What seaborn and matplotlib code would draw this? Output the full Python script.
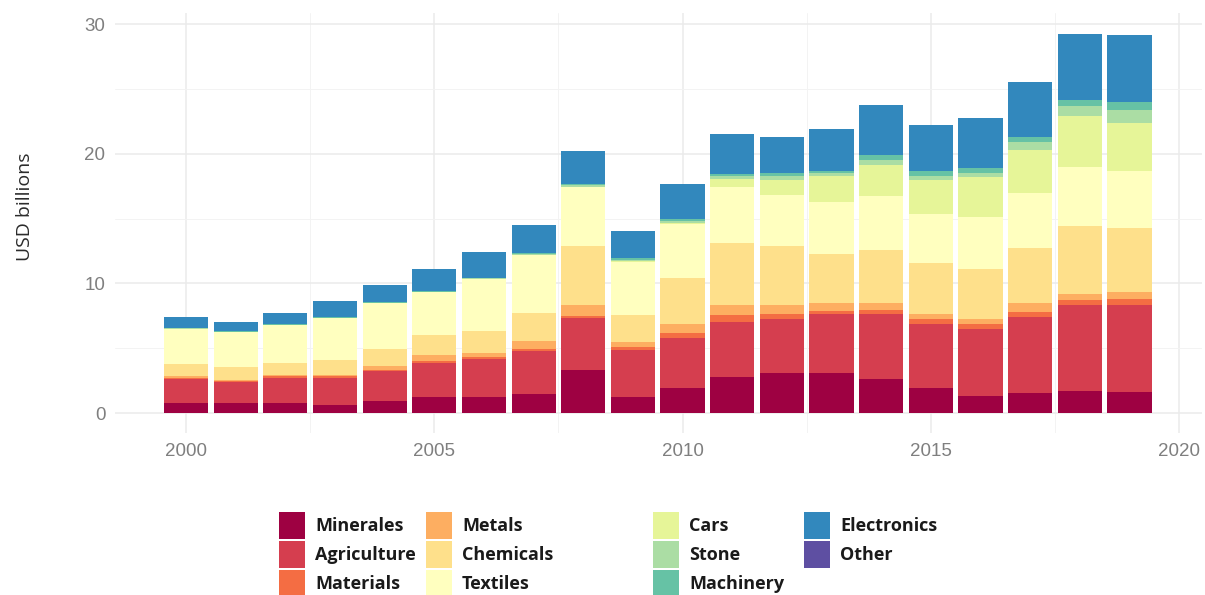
import matplotlib
matplotlib.use('Agg')
import matplotlib.pyplot as plt
from matplotlib.patches import Patch
from matplotlib.ticker import MultipleLocator
import pandas as pd
import seaborn as sns

years = [2000, 2001, 2002, 2003, 2004, 2005, 2006, 2007, 2008, 2009,
         2010, 2011, 2012, 2013, 2014, 2015, 2016, 2017, 2018, 2019]

# USD billions
minerales = [0.75, 0.75, 0.75, 0.62, 0.95, 1.2, 1.2, 1.45, 3.3, 1.25,
             1.95, 2.8, 3.1, 3.1, 2.6, 1.9, 1.3, 1.55, 1.7, 1.6]
agriculture = [1.85, 1.64, 1.97, 2.1, 2.3, 2.65, 2.95, 3.3, 4.0, 3.6,
               3.8, 4.25, 4.15, 4.55, 5.0, 5.0, 5.15, 5.85, 6.65, 6.7]
materials = [0.1, 0.05, 0.1, 0.1, 0.1, 0.2, 0.15, 0.2, 0.2, 0.25,
             0.45, 0.5, 0.4, 0.25, 0.35, 0.35, 0.4, 0.4, 0.35, 0.5]
metals = [0.15, 0.1, 0.1, 0.15, 0.25, 0.4, 0.35, 0.6, 0.8, 0.4,
          0.7, 0.8, 0.7, 0.6, 0.5, 0.42, 0.43, 0.65, 0.5, 0.5]
chemicals = [0.92, 1.02, 0.95, 1.11, 1.35, 1.55, 1.7, 2.15, 4.6, 2.05,
             3.55, 4.8, 4.5, 3.8, 4.1, 3.93, 3.85, 4.27, 5.2, 4.95]
textiles = [2.73, 2.67, 2.91, 3.26, 3.55, 3.35, 4.0, 4.5, 4.5, 4.1,
            4.1, 4.3, 4.0, 4.0, 4.2, 3.75, 4.0, 4.23, 4.6, 4.45]
cars = [0.0, 0.0, 0.0, 0.0, 0.0, 0.0, 0.0, 0.0, 0.05, 0.05,
        0.1, 0.6, 1.1, 2.0, 2.4, 2.6, 3.05, 3.35, 3.9, 3.7]
stone = [0.02, 0.02, 0.02, 0.02, 0.02, 0.02, 0.03, 0.03, 0.1, 0.1,
         0.15, 0.2, 0.3, 0.2, 0.35, 0.35, 0.35, 0.6, 0.8, 1.0]
machinery = [0.05, 0.05, 0.05, 0.05, 0.05, 0.05, 0.05, 0.1, 0.15, 0.15,
             0.2, 0.2, 0.25, 0.2, 0.4, 0.4, 0.4, 0.35, 0.45, 0.55]
electronics = [0.8, 0.75, 0.9, 1.23, 1.3, 1.7, 2.0, 2.2, 2.5, 2.05,
               2.7, 3.1, 2.8, 3.2, 3.85, 3.55, 3.8, 4.25, 5.1, 5.2]
other = [0.0, 0.0, 0.0, 0.0, 0.0, 0.0, 0.0, 0.0, 0.0, 0.0,
         0.0, 0.0, 0.0, 0.0, 0.0, 0.0, 0.0, 0.0, 0.0, 0.0]

sectors = ['Minerales', 'Agriculture', 'Materials', 'Metals', 'Chemicals',
           'Textiles', 'Cars', 'Stone', 'Machinery', 'Electronics', 'Other']
series = [minerales, agriculture, materials, metals, chemicals, textiles,
          cars, stone, machinery, electronics, other]
colors = ['#9e0142', '#d53e4f', '#f46d43', '#fdae61', '#fee08b', '#ffffbf',
          '#e6f598', '#abdda4', '#66c2a5', '#3288bd', '#5e4fa2']


def build_frame():
    rows = []
    for name, vals in zip(sectors, series):
        for y, v in zip(years, vals):
            rows.append({'Year': y, 'Sector': name, 'Value': v})
    return pd.DataFrame(rows)


def main():
    df = build_frame()
    W, H = 1205, 595

    sns.set_theme(style='whitegrid')
    fig = plt.figure(figsize=(W / 100, H / 100), dpi=100)
    ax = fig.add_axes([115 / W, 1 - 433 / H, (1202 - 115) / W, (433 - 13) / H])

    # seaborn stacks the last hue level at the bottom, so reverse the order
    sns.histplot(data=df, x='Year', weights='Value', hue='Sector',
                 hue_order=sectors[::-1], palette=colors[::-1], multiple='stack',
                 discrete=True, shrink=0.89, alpha=1, linewidth=0,
                 legend=False, ax=ax)

    ax.set_xlim(1998.57, 2020.46)
    ax.set_ylim(-1.54, 30.85)
    ax.set_xticks([2000, 2005, 2010, 2015, 2020])
    ax.set_yticks([0, 10, 20, 30])
    ax.xaxis.set_minor_locator(MultipleLocator(2.5))
    ax.yaxis.set_minor_locator(MultipleLocator(5))
    ax.grid(which='major', color='#ebebeb', linewidth=1.1)
    ax.grid(which='minor', color='#f3f3f3', linewidth=0.7)
    ax.set_axisbelow(True)
    for s in ax.spines.values():
        s.set_visible(False)
    ax.tick_params(which='both', length=0, labelsize=13.5,
                   labelcolor='#7f7f7f', pad=7)
    for lab in ax.get_xticklabels() + ax.get_yticklabels():
        lab.set_family('Liberation Sans')
    ax.set_xlabel('')
    ax.set_ylabel('')

    fig.text(25 / W, 1 - 207 / H, 'USD billions', rotation=90,
             ha='center', va='center', fontsize=14, family='Open Sans',
             color='#2b2b2b')

    # legend laid out in four columns, like the original
    columns = [[0, 1, 2], [3, 4, 5], [6, 7, 8], [9, 10]]
    key_x = [279, 426, 653, 804]
    for col, x0 in zip(columns, key_x):
        handles = [Patch(facecolor=colors[i], edgecolor='none') for i in col]
        leg = fig.legend(handles, [sectors[i] for i in col], loc='upper left',
                         bbox_to_anchor=(x0 / W, 1 - 512 / H), frameon=False,
                         borderpad=0, borderaxespad=0, handlelength=1.45,
                         handleheight=1.93, handletextpad=0.55, labelspacing=0.11,
                         prop={'family': 'Open Sans', 'weight': 'bold', 'size': 13})
        for t in leg.get_texts():
            t.set_color('#1a1a1a')

    fig.savefig('out.png', dpi=100)


if __name__ == '__main__':
    main()
